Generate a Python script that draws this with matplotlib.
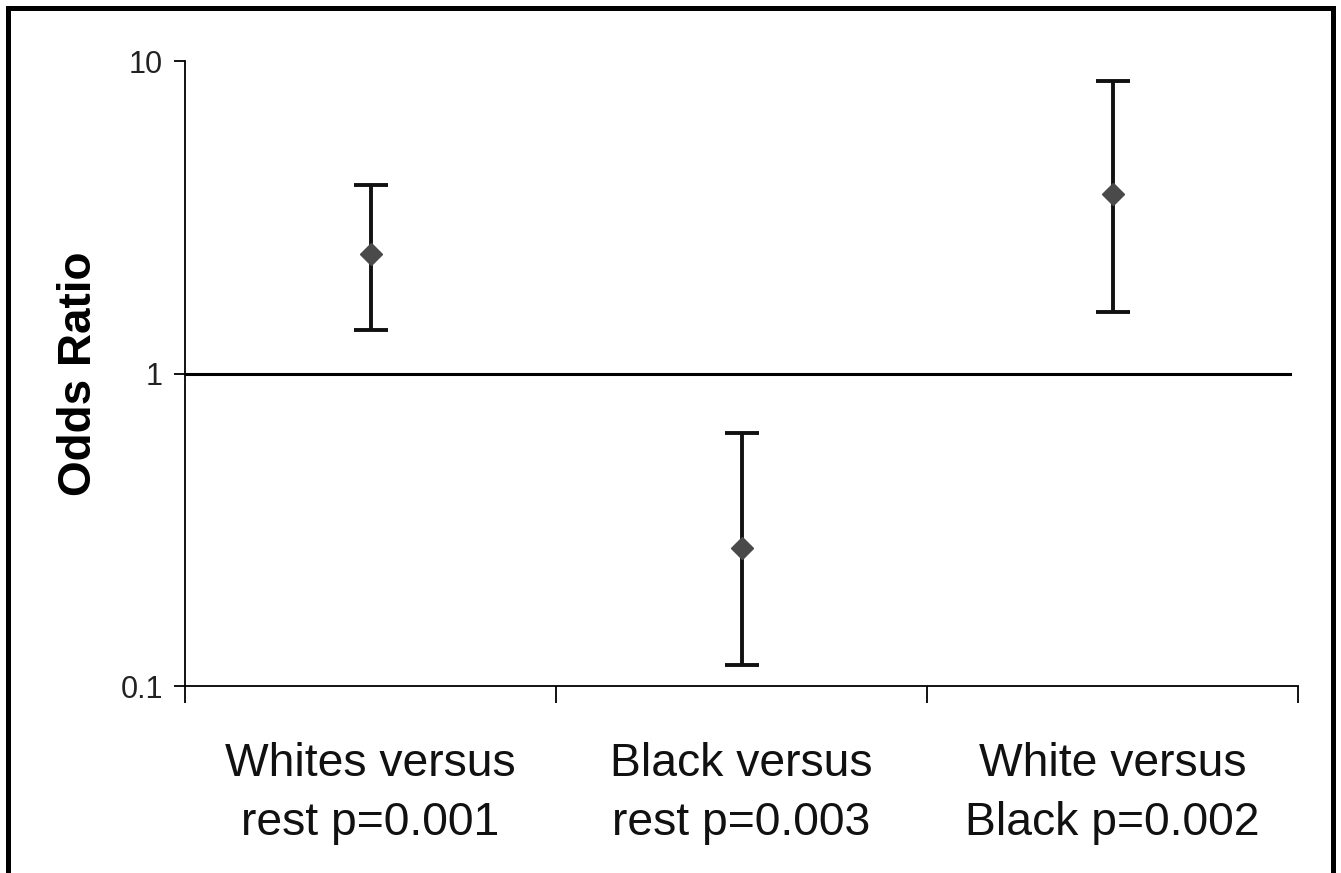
import matplotlib
matplotlib.use("Agg")
import matplotlib.pyplot as plt
from matplotlib.patches import Rectangle
import numpy as np

categories = ["Whites versus\nrest p=0.001", "Black versus\nrest p=0.003", "White versus\nBlack p=0.002"]
odds_ratio = [2.41, 0.277, 3.75]
ci_lower = [1.38, 0.117, 1.58]
ci_upper = [4.0, 0.647, 8.63]

plt.rcParams['font.family'] = ['Liberation Sans', 'DejaVu Sans']

fig = plt.figure(figsize=(13.41, 8.73), dpi=100)
ax = fig.add_axes([0.138, 0.214, 0.830, 0.716])

x = np.arange(len(categories)) + 0.5
yerr = np.array([np.array(odds_ratio) - np.array(ci_lower),
                 np.array(ci_upper) - np.array(odds_ratio)])
ax.errorbar(x, odds_ratio, yerr=yerr, fmt='D', color='#111111', ecolor='#111111',
            elinewidth=2.8, capsize=12, capthick=2.8, markersize=11,
            markerfacecolor='#4a4a4a', markeredgecolor='#4a4a4a', zorder=3)

ax.axhline(1, xmin=0, xmax=0.993, color='black', linewidth=2.2, zorder=2)

ax.set_yscale('log')
ax.set_ylim(0.1, 10)
ax.set_xlim(0, 3)
ax.set_yticks([0.1, 1, 10])
ax.set_yticklabels(['0.1', '1', '10'])
ax.yaxis.set_minor_locator(matplotlib.ticker.NullLocator())
ax.set_xticks([0, 1, 2, 3])
ax.set_xticklabels([])
ax.set_xticks(x, minor=True)
ax.set_xticklabels(categories, minor=True)
ax.tick_params(axis='x', which='minor', length=0, pad=40, labelsize=33.3)
ax.tick_params(axis='x', which='major', length=12, width=1.3, direction='out')
ax.tick_params(axis='y', which='major', length=8, width=1.3, direction='out', labelsize=22, pad=8, colors='black')
for lbl in ax.get_xticklabels(minor=True):
    lbl.set_linespacing(1.45)
    lbl.set_color('#111111')
for lbl in ax.get_yticklabels():
    lbl.set_color('#222222')

for s in ['top', 'right']:
    ax.spines[s].set_visible(False)
for s in ['left', 'bottom']:
    ax.spines[s].set_linewidth(1.3)

ax.set_ylabel('Odds Ratio', fontsize=33, fontweight='bold', labelpad=14)

fig.patches.append(Rectangle((0.0056, -0.01), 0.9881, 1.0014, transform=fig.transFigure,
                             fill=False, edgecolor='black', linewidth=3.6))

fig.savefig('out.png', dpi=100)
